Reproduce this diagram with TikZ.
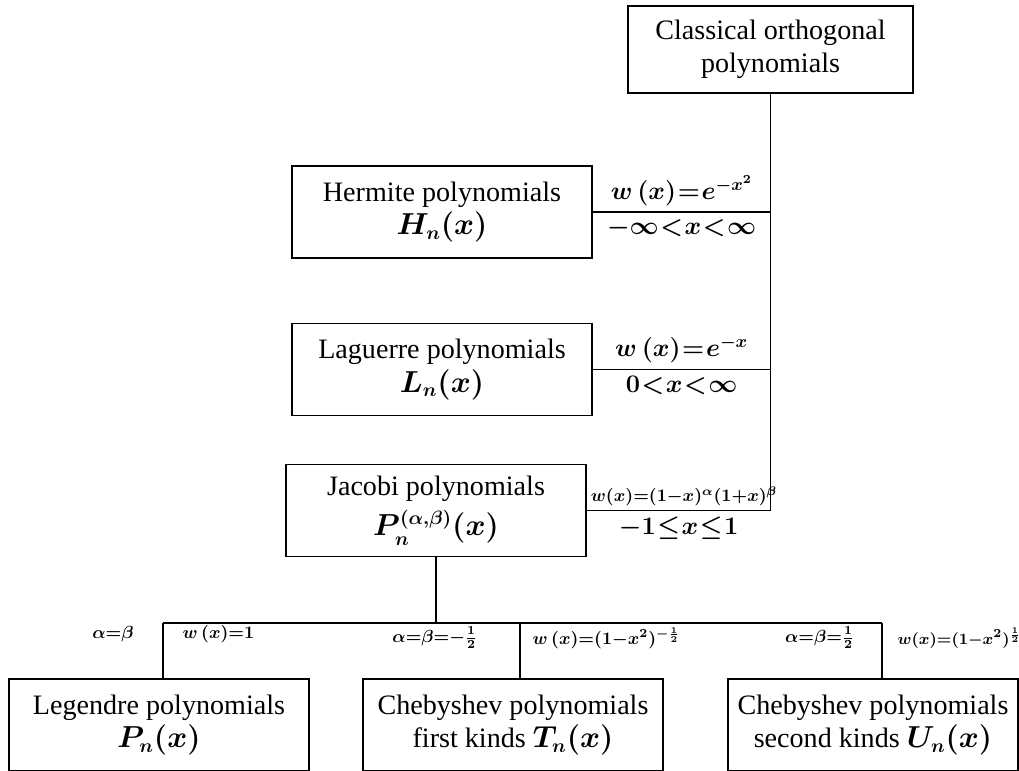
\documentclass[tikz,border=0pt]{standalone}
\usepackage{fontspec}
\setmainfont{Liberation Serif}
\usepackage{amsmath}
\newcommand\tightmath{\thickmuskip=1mu\relax\medmuskip=1mu\relax}
\newcommand\tightermath{\thickmuskip=0mu\relax\medmuskip=0mu\relax}

\begin{document}
\begin{tikzpicture}[x=0.02cm, y=-0.02cm, line width=1.1pt,
  box/.style={draw, rectangle, minimum width=6cm, minimum height=1.84cm,
    align=center, inner sep=0pt, font=\fontsize{16}{19}\selectfont\boldmath},
  wlabel/.style={font=\fontsize{14}{16}\selectfont\boldmath\tightmath, inner sep=3pt},
  smalllabel/.style={font=\fontsize{10}{12}\selectfont\boldmath\tightermath, inner sep=1pt}]
  \useasboundingbox (0, 0) rectangle (1019, 771);
  % Draw boxes
  \node [box, minimum width=5.7cm, minimum height=1.74cm] (classical) at (770.5, 49.5) {Classical orthogonal\\polynomials};
  \node [box] (hermite) at (442, 212) {Hermite polynomials\\$H_n(x)$};
  \node [box] (laguerre) at (442, 369.5) {Laguerre polynomials\\$L_n(x)$};
  \node [box] (jacobi) at (436, 510.5) {Jacobi polynomials\\[4pt]$P_n^{(\alpha,\beta)}(x)$};
  \node [box] (legendre) at (159, 725) {Legendre polynomials\\$P_n(x)$};
  \node [box] (chebone) at (513, 725) {Chebyshev polynomials\\first kinds $T_n(x)$};
  \node [box, minimum width=5.8cm] (chebtwo) at (873, 725) {Chebyshev polynomials\\second kinds $U_n(x)$};
  % Draw trunk and branches (with weights above, intervals below)
  \draw (classical.south) |- (jacobi.east);
  \draw (hermite.east) -- node [wlabel, above] (whermite) {$w\,(x)=e^{-x^2}$}
    node [wlabel, below] (ihermite) {$-\infty<x<\infty$} (hermite.east -| classical.south);
  \draw (laguerre.east) -- node [wlabel, above] (wlaguerre) {$w\,(x)=e^{-x}$}
    node [wlabel, below] (ilaguerre) {$0<x<\infty$} (laguerre.east -| classical.south);
  \path (jacobi.east) -- node [wlabel, above, xshift=3pt, font=\fontsize{10}{12}\selectfont\boldmath\tightermath, inner sep=2pt] (wjacobi) {$w(x)=(1-x)^{\alpha}(1+x)^{\beta}$}
    node [wlabel, below] (ijacobi) {$-1\le x\le 1$} (jacobi.east -| classical.south);
  % Draw bus to the special cases
  \coordinate (bus) at (436, 623);
  \coordinate (dropL) at (163, 623);
  \coordinate (dropM) at (520, 623);
  \coordinate (dropR) at (882, 623);
  \draw (jacobi.south) -- (bus);
  \draw (dropL) -- (dropR);
  \draw (dropL) -- (dropL |- legendre.north);
  \draw (dropM) -- (dropM |- chebone.north);
  \draw (dropR) -- (dropR |- chebtwo.north);
  % Add parameter and weight labels
  \node [smalllabel] (plegendre) at (113, 634) {$\alpha=\beta$};
  \node [smalllabel, anchor=west] (wlegendre) at (180, 634) {$w\,(x)=1$};
  \node [smalllabel, anchor=east] (pchebone) at (480, 638) {$\alpha=\beta=-\frac{1}{2}$};
  \node [smalllabel, anchor=west] (wchebone) at (530, 638) {$w\,(x)=(1-x^2)^{-\frac{1}{2}}$};
  \node [smalllabel, anchor=east] (pchebtwo) at (857, 638) {$\alpha=\beta=\frac{1}{2}$};
  \node [smalllabel, anchor=west, font=\fontsize{9.3}{11}\selectfont\boldmath\tightermath] (wchebtwo) at (895, 638) {$w(x)=(1-x^2)^{\frac{1}{2}}$};
\end{tikzpicture}
\end{document}
